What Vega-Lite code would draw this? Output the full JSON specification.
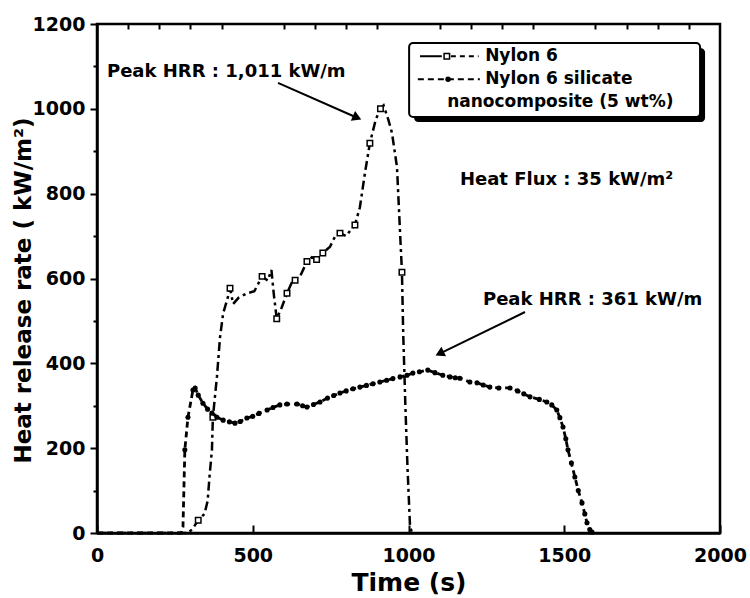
{
  "$schema": "https://vega.github.io/schema/vega-lite/v6.json",
  "width": 623,
  "height": 509,
  "autosize": {"type": "none"},
  "padding": {"left": 97, "top": 24, "right": 30, "bottom": 65},
  "background": "white",
  "config": {
    "view": {"stroke": "black", "strokeWidth": 2.5},
    "font": "DejaVu Sans",
    "axis": {"labelOverlap": false, "labelBound": false, "labelSeparation": 0}
  },
  "resolve": {"axis": {"x": "independent"}},
  "datasets": {
    "nylon": [
      {"t": 0, "hrr": 0}, {"t": 100, "hrr": 0}, {"t": 200, "hrr": 0}, {"t": 290, "hrr": 0},
      {"t": 305, "hrr": 8}, {"t": 325, "hrr": 30}, {"t": 345, "hrr": 45}, {"t": 355, "hrr": 75},
      {"t": 362, "hrr": 140}, {"t": 369, "hrr": 196}, {"t": 372, "hrr": 273}, {"t": 385, "hrr": 368},
      {"t": 395, "hrr": 462}, {"t": 405, "hrr": 518}, {"t": 418, "hrr": 550}, {"t": 427, "hrr": 577},
      {"t": 437, "hrr": 540}, {"t": 455, "hrr": 555}, {"t": 481, "hrr": 565}, {"t": 505, "hrr": 570},
      {"t": 530, "hrr": 605}, {"t": 548, "hrr": 595}, {"t": 560, "hrr": 620}, {"t": 568, "hrr": 560},
      {"t": 577, "hrr": 505}, {"t": 592, "hrr": 530}, {"t": 610, "hrr": 565}, {"t": 625, "hrr": 590},
      {"t": 636, "hrr": 596}, {"t": 655, "hrr": 610}, {"t": 674, "hrr": 640}, {"t": 690, "hrr": 650},
      {"t": 705, "hrr": 645}, {"t": 725, "hrr": 660}, {"t": 748, "hrr": 675}, {"t": 765, "hrr": 700},
      {"t": 780, "hrr": 707}, {"t": 800, "hrr": 700}, {"t": 815, "hrr": 715}, {"t": 828, "hrr": 726},
      {"t": 844, "hrr": 768}, {"t": 860, "hrr": 848}, {"t": 876, "hrr": 919}, {"t": 895, "hrr": 975},
      {"t": 910, "hrr": 1000}, {"t": 920, "hrr": 1008}, {"t": 935, "hrr": 975}, {"t": 947, "hrr": 943},
      {"t": 963, "hrr": 863}, {"t": 973, "hrr": 707}, {"t": 979, "hrr": 615}, {"t": 983, "hrr": 471},
      {"t": 990, "hrr": 300}, {"t": 997, "hrr": 150}, {"t": 1005, "hrr": 14}, {"t": 1012, "hrr": 0}
    ],
    "nylon_marks": [
      {"t": 325, "hrr": 30}, {"t": 372, "hrr": 273}, {"t": 427, "hrr": 577}, {"t": 530, "hrr": 605},
      {"t": 577, "hrr": 505}, {"t": 610, "hrr": 565}, {"t": 636, "hrr": 596}, {"t": 674, "hrr": 640},
      {"t": 705, "hrr": 645}, {"t": 725, "hrr": 660}, {"t": 780, "hrr": 707}, {"t": 828, "hrr": 726},
      {"t": 876, "hrr": 919}, {"t": 910, "hrr": 1000}, {"t": 979, "hrr": 615}
    ],
    "nano": [
      {"t": 0, "hrr": 0}, {"t": 100, "hrr": 0}, {"t": 200, "hrr": 0}, {"t": 270, "hrr": 0},
      {"t": 276, "hrr": 14}, {"t": 282, "hrr": 196}, {"t": 292, "hrr": 273}, {"t": 308, "hrr": 337},
      {"t": 315, "hrr": 342}, {"t": 325, "hrr": 325}, {"t": 340, "hrr": 306}, {"t": 355, "hrr": 292},
      {"t": 369, "hrr": 283}, {"t": 385, "hrr": 273}, {"t": 405, "hrr": 266}, {"t": 425, "hrr": 262},
      {"t": 443, "hrr": 259}, {"t": 460, "hrr": 263}, {"t": 481, "hrr": 271}, {"t": 500, "hrr": 275},
      {"t": 520, "hrr": 282}, {"t": 546, "hrr": 290}, {"t": 565, "hrr": 296}, {"t": 587, "hrr": 302},
      {"t": 610, "hrr": 304}, {"t": 642, "hrr": 304}, {"t": 660, "hrr": 300}, {"t": 674, "hrr": 297},
      {"t": 695, "hrr": 303}, {"t": 716, "hrr": 309}, {"t": 740, "hrr": 318}, {"t": 760, "hrr": 324},
      {"t": 780, "hrr": 330}, {"t": 800, "hrr": 335}, {"t": 822, "hrr": 340}, {"t": 844, "hrr": 344},
      {"t": 865, "hrr": 348}, {"t": 886, "hrr": 352}, {"t": 908, "hrr": 356}, {"t": 930, "hrr": 360},
      {"t": 950, "hrr": 364}, {"t": 973, "hrr": 368}, {"t": 995, "hrr": 372}, {"t": 1014, "hrr": 377},
      {"t": 1035, "hrr": 380}, {"t": 1062, "hrr": 384}, {"t": 1085, "hrr": 378}, {"t": 1110, "hrr": 372},
      {"t": 1133, "hrr": 368}, {"t": 1150, "hrr": 366}, {"t": 1165, "hrr": 365}, {"t": 1197, "hrr": 356},
      {"t": 1220, "hrr": 354}, {"t": 1240, "hrr": 349}, {"t": 1261, "hrr": 344}, {"t": 1290, "hrr": 342},
      {"t": 1326, "hrr": 342}, {"t": 1350, "hrr": 335}, {"t": 1370, "hrr": 328}, {"t": 1390, "hrr": 321},
      {"t": 1420, "hrr": 315}, {"t": 1444, "hrr": 309}, {"t": 1460, "hrr": 302}, {"t": 1476, "hrr": 290},
      {"t": 1486, "hrr": 272}, {"t": 1496, "hrr": 250}, {"t": 1505, "hrr": 222}, {"t": 1512, "hrr": 196},
      {"t": 1523, "hrr": 165}, {"t": 1534, "hrr": 132}, {"t": 1545, "hrr": 100}, {"t": 1557, "hrr": 71},
      {"t": 1566, "hrr": 45}, {"t": 1573, "hrr": 24}, {"t": 1582, "hrr": 8}, {"t": 1589, "hrr": 2},
      {"t": 1600, "hrr": 0}
    ]
  },
  "layer": [
    {
      "data": {"name": "nylon"},
      "mark": {"type": "line", "color": "black", "strokeWidth": 2.5, "strokeDash": [9, 4, 3, 4]},
      "encoding": {
        "x": {
          "field": "t", "type": "quantitative",
          "scale": {"domain": [0, 2000], "nice": false, "zero": false},
          "axis": {
            "values": [0, 500, 1000, 1500, 2000],
            "format": "d",
            "labelFont": "DejaVu Sans", "labelFontSize": 19, "labelFontWeight": "bold", "labelColor": "black",
            "labelPadding": 21, "labelOverlap": false, "labelFlush": false, "labelBound": false,
            "tickColor": "black", "tickWidth": 2, "tickSize": -8,
            "domainColor": "black", "domainWidth": 2.5, "grid": false,
            "title": "Time (s)", "titleFont": "DejaVu Sans", "titleFontSize": 25, "titleFontWeight": "bold",
            "titleColor": "black", "titleY": 49, "titleBaseline": "middle"
          }
        },
        "y": {
          "field": "hrr", "type": "quantitative",
          "scale": {"domain": [0, 1200], "nice": false},
          "axis": {
            "values": [0,50,100,150,200,250,300,350,400,450,500,550,600,650,700,750,800,850,900,950,1000,1050,1100,1150,1200],
            "labelExpr": "datum.value % 200 == 0 ? datum.label : ''",
            "format": "d",
            "labelFont": "DejaVu Sans", "labelFontSize": 19, "labelFontWeight": "bold", "labelColor": "black",
            "labelPadding": 5, "labelOverlap": false,
            "tickColor": "black", "tickWidth": 2,
            "tickSize": {"condition": {"test": "datum.value % 200 == 0", "value": 7}, "value": 4},
            "domainColor": "black", "domainWidth": 2.5, "grid": false,
            "title": "Heat release rate ( kW/m²)", "titleFont": "DejaVu Sans", "titleFontSize": 23,
            "titleFontWeight": "bold", "titleColor": "black",
            "titleX": -74, "titleY": 266, "titleBaseline": "middle", "titleAlign": "center", "titleAngle": 270
          }
        }
      }
    },
    {
      "data": {"name": "nylon_marks"},
      "mark": {"type": "point", "shape": "square", "filled": true, "fill": "white", "stroke": "black", "strokeWidth": 1.5, "size": 30, "opacity": 1},
      "encoding": {
        "x": {
          "field": "t", "type": "quantitative",
          "axis": {
            "values": [100,200,300,400,600,700,800,900,1100,1200,1300,1400,1600,1700,1800,1900],
            "labels": false, "domain": false, "grid": false, "title": null,
            "tickColor": "black", "tickWidth": 2, "tickSize": -5
          }
        },
        "y": {"field": "hrr", "type": "quantitative"}
      }
    },
    {
      "data": {"name": "nano"},
      "mark": {"type": "line", "color": "black", "strokeWidth": 2.8, "strokeDash": [6, 4]},
      "encoding": {
        "x": {"field": "t", "type": "quantitative", "axis": null},
        "y": {"field": "hrr", "type": "quantitative"}
      }
    },
    {
      "data": {"name": "nano"},
      "transform": [{"filter": "datum.t > 280 && datum.t < 1595"}],
      "mark": {"type": "point", "shape": "circle", "filled": true, "color": "black", "size": 26, "opacity": 1},
      "encoding": {
        "x": {"field": "t", "type": "quantitative", "axis": null},
        "y": {"field": "hrr", "type": "quantitative"}
      }
    },
    {
      "data": {"values": [{}]},
      "mark": {"type": "rule", "color": "black", "strokeWidth": 2},
      "encoding": {
        "x": {"datum": 581, "type": "quantitative", "axis": null}, "y": {"datum": 1061, "type": "quantitative"},
        "x2": {"datum": 835}, "y2": {"datum": 979}
      }
    },
    {
      "data": {"values": [{}]},
      "mark": {"type": "point", "shape": "triangle-right", "filled": true, "color": "black", "size": 110, "angle": 24, "opacity": 1},
      "encoding": {
        "x": {"datum": 835, "type": "quantitative", "axis": null}, "y": {"datum": 979, "type": "quantitative"}
      }
    },
    {
      "data": {"values": [{}]},
      "mark": {"type": "rule", "color": "black", "strokeWidth": 2},
      "encoding": {
        "x": {"datum": 1374, "type": "quantitative", "axis": null}, "y": {"datum": 521, "type": "quantitative"},
        "x2": {"datum": 1100}, "y2": {"datum": 423}
      }
    },
    {
      "data": {"values": [{}]},
      "mark": {"type": "point", "shape": "triangle-right", "filled": true, "color": "black", "size": 110, "angle": 154, "opacity": 1},
      "encoding": {
        "x": {"datum": 1100, "type": "quantitative", "axis": null}, "y": {"datum": 423, "type": "quantitative"}
      }
    },
    {
      "data": {"values": [{}]},
      "mark": {"type": "text", "text": "Peak HRR : 1,011 kW/m", "align": "left", "baseline": "middle", "font": "DejaVu Sans", "fontSize": 18, "fontWeight": "bold", "color": "black"},
      "encoding": {"x": {"datum": 32, "type": "quantitative", "axis": null}, "y": {"datum": 1087, "type": "quantitative"}}
    },
    {
      "data": {"values": [{}]},
      "mark": {"type": "text", "text": "Heat Flux : 35 kW/m²", "align": "left", "baseline": "middle", "font": "DejaVu Sans", "fontSize": 18, "fontWeight": "bold", "color": "black"},
      "encoding": {"x": {"datum": 1165, "type": "quantitative", "axis": null}, "y": {"datum": 832, "type": "quantitative"}}
    },
    {
      "data": {"values": [{}]},
      "mark": {"type": "text", "text": "Peak HRR : 361 kW/m", "align": "left", "baseline": "middle", "font": "DejaVu Sans", "fontSize": 18, "fontWeight": "bold", "color": "black"},
      "encoding": {"x": {"datum": 1239, "type": "quantitative", "axis": null}, "y": {"datum": 549, "type": "quantitative"}}
    },
    {
      "data": {"values": [{}]},
      "mark": {"type": "rect", "color": "black", "cornerRadius": 4},
      "encoding": {
        "x": {"datum": 1018, "type": "quantitative", "axis": null}, "x2": {"datum": 1952},
        "y": {"datum": 969, "type": "quantitative"}, "y2": {"datum": 1143}
      }
    },
    {
      "data": {"values": [{}]},
      "mark": {"type": "rect", "fill": "white", "stroke": "black", "strokeWidth": 2, "cornerRadius": 4},
      "encoding": {
        "x": {"datum": 1002, "type": "quantitative", "axis": null}, "x2": {"datum": 1936},
        "y": {"datum": 981, "type": "quantitative"}, "y2": {"datum": 1155}
      }
    },
    {
      "data": {"values": [{}]},
      "mark": {"type": "rule", "color": "black", "strokeWidth": 2},
      "encoding": {"x": {"datum": 1037, "type": "quantitative", "axis": null}, "x2": {"datum": 1107}, "y": {"datum": 1124, "type": "quantitative"}}
    },
    {
      "data": {"values": [{}]},
      "mark": {"type": "rule", "color": "black", "strokeWidth": 2, "strokeDash": [5, 4]},
      "encoding": {"x": {"datum": 1136, "type": "quantitative", "axis": null}, "x2": {"datum": 1225}, "y": {"datum": 1124, "type": "quantitative"}}
    },
    {
      "data": {"values": [{}]},
      "mark": {"type": "point", "shape": "square", "filled": true, "fill": "white", "stroke": "black", "strokeWidth": 1.5, "size": 30, "opacity": 1},
      "encoding": {"x": {"datum": 1123, "type": "quantitative", "axis": null}, "y": {"datum": 1124, "type": "quantitative"}}
    },
    {
      "data": {"values": [{}]},
      "mark": {"type": "rule", "color": "black", "strokeWidth": 2, "strokeDash": [6, 4]},
      "encoding": {"x": {"datum": 1030, "type": "quantitative", "axis": null}, "x2": {"datum": 1229}, "y": {"datum": 1070, "type": "quantitative"}}
    },
    {
      "data": {"values": [{}]},
      "mark": {"type": "point", "shape": "circle", "filled": true, "color": "black", "size": 30, "opacity": 1},
      "encoding": {"x": {"datum": 1127, "type": "quantitative", "axis": null}, "y": {"datum": 1070, "type": "quantitative"}}
    },
    {
      "data": {"values": [{}]},
      "mark": {"type": "text", "text": "Nylon 6", "align": "left", "baseline": "middle", "font": "DejaVu Sans", "fontSize": 17, "fontWeight": "bold", "color": "black"},
      "encoding": {"x": {"datum": 1246, "type": "quantitative", "axis": null}, "y": {"datum": 1124, "type": "quantitative"}}
    },
    {
      "data": {"values": [{}]},
      "mark": {"type": "text", "text": "Nylon 6 silicate", "align": "left", "baseline": "middle", "font": "DejaVu Sans", "fontSize": 17, "fontWeight": "bold", "color": "black"},
      "encoding": {"x": {"datum": 1246, "type": "quantitative", "axis": null}, "y": {"datum": 1070, "type": "quantitative"}}
    },
    {
      "data": {"values": [{}]},
      "mark": {"type": "text", "text": "nanocomposite (5 wt%)", "align": "left", "baseline": "middle", "font": "DejaVu Sans", "fontSize": 17, "fontWeight": "bold", "color": "black"},
      "encoding": {"x": {"datum": 1124, "type": "quantitative", "axis": null}, "y": {"datum": 1016, "type": "quantitative"}}
    }
  ]
}
